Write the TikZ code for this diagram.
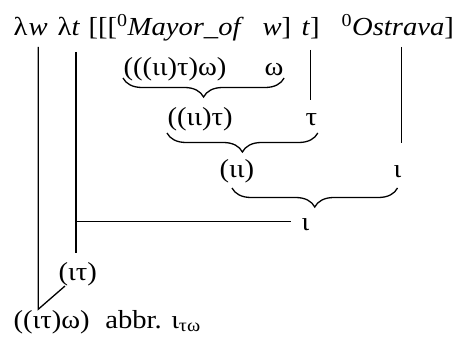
\documentclass[tikz,border=0pt]{standalone}
\usepackage{fontspec}
\setmainfont{Liberation Serif}[FakeStretch=1.1]
\usetikzlibrary{decorations.pathreplacing}

\begin{document}
\begin{tikzpicture}[x=1pt,y=-1pt,line width=1.3pt,
  every node/.style={inner sep=0pt,anchor=base west,font=\fontsize{26}{30}\selectfont},
  brace/.style={decorate,decoration={brace,mirror,amplitude=19pt}}]
\useasboundingbox (0,0) rectangle (462,347);
% construction
\node (lam1) at (13,36) {λ};
\node (w) at (28,36) {\textit{w}};
\node (lam2) at (57,36) {λ};
\node (t) at (71,36) {\textit{t}};
\node (mayor) at (88,36) {[[[\textsuperscript{0}\textit{Mayor\_of}};
\node (wv) at (262,36) {\textit{w}]};
\node (tv) at (301,36) {\textit{t}]};
\node (ostrava) at (341,36) {\textsuperscript{0}\textit{Ostrava}]};
% types
\node (mo) at (123,76) {(((ιι)τ)ω)};
\node (om) at (264,76) {ω};
\node (ab) at (167,126) {((ιι)τ)};
\node (tau) at (305,126) {τ};
\node (ii) at (219,178) {(ιι)};
\node (io) at (393,178) {ι};
\node (iv) at (301,230) {ι};
\node (it) at (58,280) {(ιτ)};
\node (itw) at (13,328) {((ιτ)ω)\hspace{0.6em}abbr. ι\textsubscript{τω}};
% braces
\draw[brace] ([yshift=-2pt]mo.base west) -- ([yshift=-2pt]om.base east);
\draw[brace] ([yshift=-7pt]ab.base west) -- ([yshift=-7pt]tau.base east);
\draw[brace] ([xshift=13pt,yshift=-10pt]ii.base west) -- ([yshift=-10pt]io.base);
% lines
\draw ([yshift=-11pt]w.base) -- (w.base |- itw.north) -- ([xshift=7pt,yshift=-6pt]it.base west);
\draw ([yshift=-16pt]t.base) -- ([yshift=27pt]t.base |- it.base);
\draw ([yshift=3pt]t.base |- iv.west) -- ([xshift=-10pt,yshift=3pt]iv.west);
\draw ([yshift=-14pt]tv.base) -- ([yshift=26pt]tv.base |- tau.base);
\draw ([xshift=4pt,yshift=-11pt]io.base |- ostrava.base) -- ([xshift=4pt,yshift=35pt]io.base);
\end{tikzpicture}
\end{document}
